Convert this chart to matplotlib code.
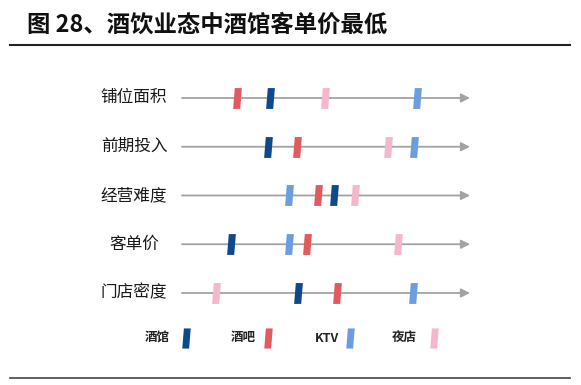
import matplotlib
matplotlib.use("Agg")
import matplotlib.pyplot as plt
from matplotlib.path import Path

plt.rcParams['font.family'] = ['Noto Sans CJK SC', 'DejaVu Sans']

title = "图 28、酒饮业态中酒馆客单价最低"
rows = ["铺位面积", "前期投入", "经营难度", "客单价", "门店密度"]
series = ["酒馆", "酒吧", "KTV", "夜店"]
colors = ["#0d4a8c", "#e05a5e", "#6a9ede", "#f5b8ca"]
# relative position along each axis (0 = start, 288 = arrow tip)
vals_jiuguan = [88, 86, 152, 49, 116]
vals_jiuba = [55, 115, 136, 125, 155]
vals_ktv = [235, 232, 107, 107, 231]
vals_yedian = [143, 206, 173, 216, 34]
all_vals = [vals_jiuguan, vals_jiuba, vals_ktv, vals_yedian]

W, H = 581, 385
fig = plt.figure(figsize=(W / 100, H / 100), dpi=100)

# overlay in pixel coordinates for title, rules, labels, legend
ov = fig.add_axes([0, 0, 1, 1])
ov.set_xlim(0, W)
ov.set_ylim(H, 0)
ov.axis('off')

marker = Path([(-0.42, -1), (0.26, -1), (0.42, 1), (-0.26, 1), (-0.42, -1)],
              [Path.MOVETO, Path.LINETO, Path.LINETO, Path.LINETO, Path.CLOSEPOLY])

ov.text(27, 25, title, fontsize=16.8, fontweight='bold', va='center', ha='left', color='#111111')
ov.plot([10, 570], [45, 45], color='#222222', lw=1.5)
ov.plot([10, 570], [378, 378], color='#444444', lw=1.2)

# main axes
ax = fig.add_axes([182 / W, (H - 310) / H, (470 - 182) / W, 230 / H])
ax.set_xlim(0, 288)
ax.set_ylim(4.349, -0.369)
ax.axis('off')

for i, r in enumerate(rows):
    ax.annotate('', xy=(288, i), xytext=(0, i),
                arrowprops=dict(arrowstyle='-|>', color='#a3a3a3', lw=1.3,
                                mutation_scale=13, shrinkA=0, shrinkB=0))
    ax.text(-48, i, r, fontsize=12, fontweight='medium', ha='center', va='center', color='#1a1a1a')

for s, c, vals in zip(series, colors, all_vals):
    ax.plot(vals, range(len(rows)), linestyle='none', marker=marker,
            markersize=15, color=c, markeredgewidth=0, zorder=3)

# legend
leg_text_x = [157, 243, 327, 404]
leg_mark_x = [186, 268, 350, 434]
for s, c, tx, mx in zip(series, colors, leg_text_x, leg_mark_x):
    ov.text(tx, 338, s, fontsize=9, fontweight='bold', ha='center', va='center', color='#222222')
    ov.plot([mx], [338], marker=marker, markersize=14.5, color=c, markeredgewidth=0, linestyle='none')

fig.savefig("out.png", dpi=100)
